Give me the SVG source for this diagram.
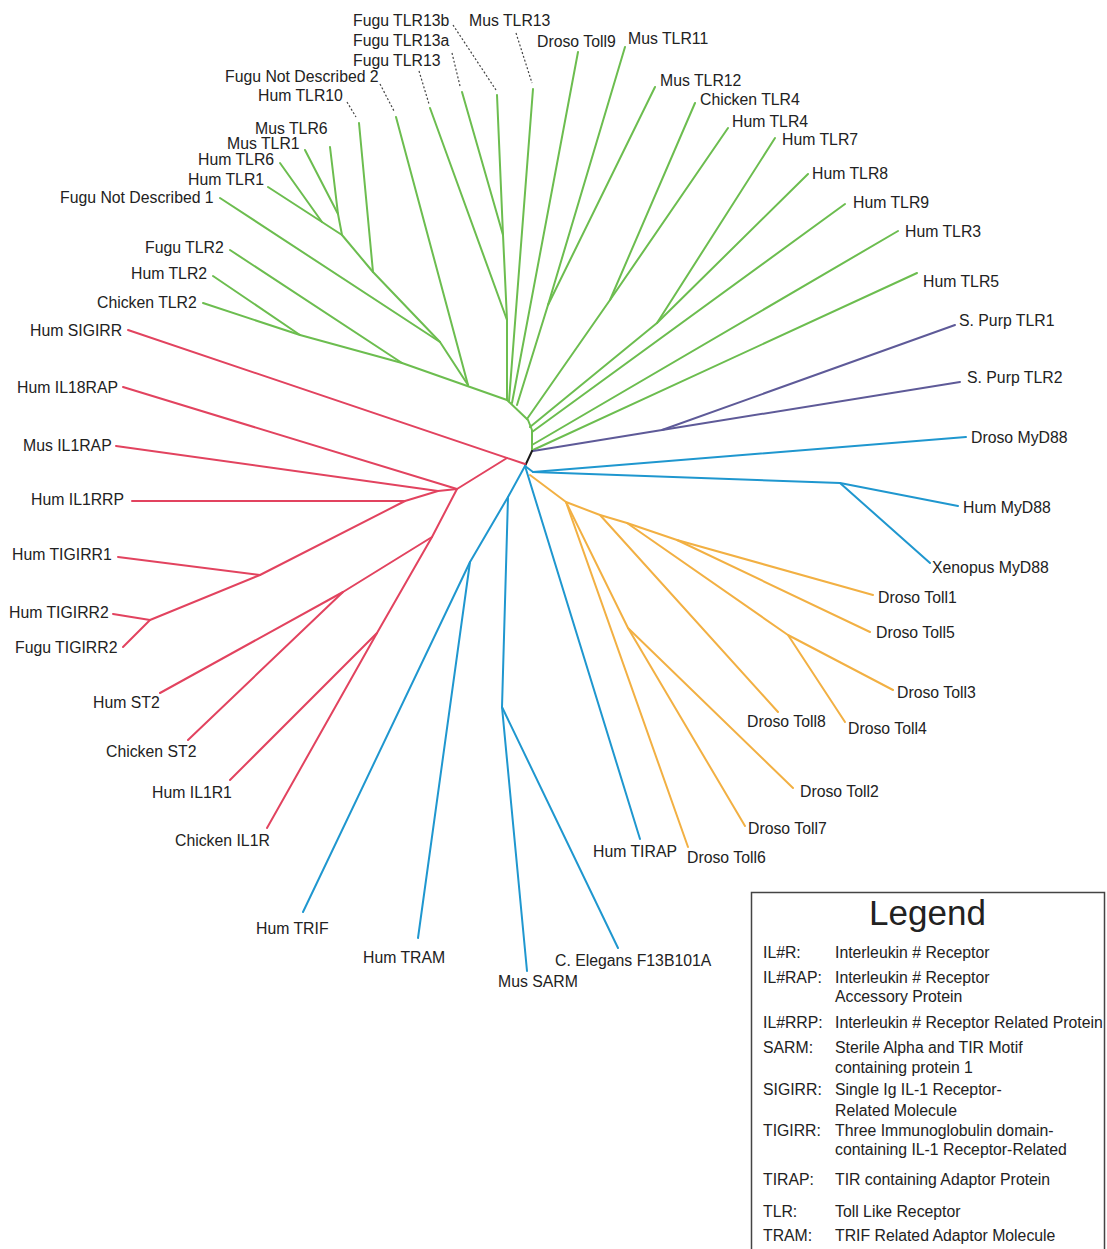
<svg xmlns="http://www.w3.org/2000/svg" width="1107" height="1249" viewBox="0 0 1107 1249">
<style>
.br{fill:none;stroke-width:2;stroke-linejoin:round;stroke-linecap:round}
.g{stroke:#6cbd4f}.r{stroke:#e2435f}.b{stroke:#1f97cf}.o{stroke:#f2b043}.p{stroke:#5e5a98}.k{stroke:#1a1a1a}
.dot{fill:none;stroke:#444;stroke-width:1.2;stroke-dasharray:2 2}
text{font-family:"Liberation Sans",Arial,Helvetica,sans-serif;font-size:15.8px;fill:#222}
.title{font-size:35px}
</style>
<rect width="1107" height="1249" fill="#fff"/>
<g id="connectors">
 <g class="br g">
  <path d="M402,363 L507,400 L528,420 L532,430 L532,451"/>
  <path d="M213,276 L300,335 L402,363"/>
  <path d="M203,303 L300,335"/>
  <path d="M230,250 L402,363"/>
  <path d="M220,198 L440,342"/>
  <path d="M268,187 L322,222 L342,235 L373,272 L440,342 L468,385"/>
  <path d="M280,163 L322,222"/>
  <path d="M305,150 L338,214 L342,235"/>
  <path d="M330,147 L338,214"/>
  <path d="M359,123 L373,272"/>
  <path d="M396,117 L468,385"/>
  <path d="M430,108 L507,320"/>
  <path d="M462,92 L503,235"/>
  <path d="M497,95 L503,235 L507,320 L507,400"/>
  <path d="M533,89 L509,401"/>
  <path d="M578,52 L512,403"/>
  <path d="M625,47 L548,305 L517,405"/>
  <path d="M655,87 L548,305"/>
  <path d="M695,103 L610,300 L527,419"/>
  <path d="M728,128 L610,300"/>
  <path d="M775,138 L657,323 L530,427"/>
  <path d="M808,174 L657,323"/>
  <path d="M845,204 L532,432"/>
  <path d="M898,231 L532,445"/>
  <path d="M917,273 L533,450"/>
 </g>
 <g class="dot">
  <path d="M453,25 L496,90"/>
  <path d="M452,53 L460,86"/>
  <path d="M419,71 L429,104"/>
  <path d="M380,84 L394,111"/>
  <path d="M347,102 L356,117"/>
  <path d="M516,33 L532,83"/>
 </g>
 <g class="br p">
  <path d="M533,451 L662,430 L955,325"/>
  <path d="M662,430 L960,382"/>
 </g>
 <path class="br k" d="M532,451 L525,466"/>
 <g class="br r">
  <path d="M525,464 L128,330"/>
  <path d="M507,458 L457,489 L123,387"/>
  <path d="M457,489 L438,491 L116,446"/>
  <path d="M438,491 L405,501 L132,501"/>
  <path d="M405,501 L260,575 L118,557"/>
  <path d="M260,575 L150,620 L113,614"/>
  <path d="M150,620 L123,647"/>
  <path d="M457,489 L432,537 L377,633 L230,780"/>
  <path d="M377,633 L267,828"/>
  <path d="M432,537 L343,592 L160,693"/>
  <path d="M343,592 L188,740"/>
 </g>
 <g class="br o">
  <path d="M530,475 L566,502 L600,515 L627,523 L677,540 L873,595"/>
  <path d="M677,540 L870,632"/>
  <path d="M627,523 L788,635 L893,690"/>
  <path d="M788,635 L845,722"/>
  <path d="M600,515 L778,712"/>
  <path d="M566,502 L628,628 L793,788"/>
  <path d="M628,628 L745,826"/>
  <path d="M566,502 L688,847"/>
 </g>
 <g class="br b">
  <path d="M525,466 L533,472 L966,437"/>
  <path d="M533,472 L840,483 L958,506"/>
  <path d="M840,483 L930,563"/>
  <path d="M525,466 L640,839"/>
  <path d="M525,466 L508,497 L470,562 L303,912"/>
  <path d="M470,562 L418,938"/>
  <path d="M508,497 L502,707 L527,971"/>
  <path d="M502,707 L618,948"/>
 </g>
</g>
<g id="n-fugu-tlr13b"><text x="353" y="26">Fugu TLR13b</text></g>
<g id="n-mus-tlr13"><text x="469" y="26">Mus TLR13</text></g>
<g id="n-fugu-tlr13a"><text x="353" y="46">Fugu TLR13a</text></g>
<g id="n-fugu-tlr13"><text x="353" y="66">Fugu TLR13</text></g>
<g id="n-droso-toll9"><text x="537" y="47">Droso Toll9</text></g>
<g id="n-mus-tlr11"><text x="628" y="44">Mus TLR11</text></g>
<g id="n-fugu-nd2"><text x="225" y="82">Fugu Not Described 2</text></g>
<g id="n-hum-tlr10"><text x="258" y="101">Hum TLR10</text></g>
<g id="n-mus-tlr12"><text x="660" y="86">Mus TLR12</text></g>
<g id="n-chicken-tlr4"><text x="700" y="105">Chicken TLR4</text></g>
<g id="n-hum-tlr4"><text x="732" y="127">Hum TLR4</text></g>
<g id="n-hum-tlr7"><text x="782" y="145">Hum TLR7</text></g>
<g id="n-hum-tlr8"><text x="812" y="179">Hum TLR8</text></g>
<g id="n-hum-tlr9"><text x="853" y="208">Hum TLR9</text></g>
<g id="n-hum-tlr3"><text x="905" y="237">Hum TLR3</text></g>
<g id="n-hum-tlr5"><text x="923" y="287">Hum TLR5</text></g>
<g id="n-spurp-tlr1"><text x="959" y="326">S. Purp TLR1</text></g>
<g id="n-spurp-tlr2"><text x="967" y="383">S. Purp TLR2</text></g>
<g id="n-droso-myd88"><text x="971" y="443">Droso MyD88</text></g>
<g id="n-hum-myd88"><text x="963" y="513">Hum MyD88</text></g>
<g id="n-xenopus-myd88"><text x="932" y="573">Xenopus MyD88</text></g>
<g id="n-droso-toll1"><text x="878" y="603">Droso Toll1</text></g>
<g id="n-droso-toll5"><text x="876" y="638">Droso Toll5</text></g>
<g id="n-droso-toll3"><text x="897" y="698">Droso Toll3</text></g>
<g id="n-droso-toll8"><text x="747" y="727">Droso Toll8</text></g>
<g id="n-droso-toll4"><text x="848" y="734">Droso Toll4</text></g>
<g id="n-droso-toll2"><text x="800" y="797">Droso Toll2</text></g>
<g id="n-droso-toll7"><text x="748" y="834">Droso Toll7</text></g>
<g id="n-hum-tirap"><text x="593" y="857">Hum TIRAP</text></g>
<g id="n-droso-toll6"><text x="687" y="863">Droso Toll6</text></g>
<g id="n-hum-trif"><text x="256" y="934">Hum TRIF</text></g>
<g id="n-hum-tram"><text x="363" y="963">Hum TRAM</text></g>
<g id="n-mus-sarm"><text x="498" y="987">Mus SARM</text></g>
<g id="n-celegans"><text x="555" y="966">C. Elegans F13B101A</text></g>
<g id="n-mus-tlr6"><text x="255" y="134">Mus TLR6</text></g>
<g id="n-mus-tlr1"><text x="227" y="149">Mus TLR1</text></g>
<g id="n-hum-tlr6"><text x="198" y="165">Hum TLR6</text></g>
<g id="n-hum-tlr1"><text x="188" y="185">Hum TLR1</text></g>
<g id="n-fugu-nd1"><text x="60" y="203">Fugu Not Described 1</text></g>
<g id="n-fugu-tlr2"><text x="145" y="253">Fugu TLR2</text></g>
<g id="n-hum-tlr2"><text x="131" y="279">Hum TLR2</text></g>
<g id="n-chicken-tlr2"><text x="97" y="308">Chicken TLR2</text></g>
<g id="n-hum-sigirr"><text x="30" y="336">Hum SIGIRR</text></g>
<g id="n-hum-il18rap"><text x="17" y="393">Hum IL18RAP</text></g>
<g id="n-mus-il1rap"><text x="23" y="451">Mus IL1RAP</text></g>
<g id="n-hum-il1rrp"><text x="31" y="505">Hum IL1RRP</text></g>
<g id="n-hum-tigirr1"><text x="12" y="560">Hum TIGIRR1</text></g>
<g id="n-hum-tigirr2"><text x="9" y="618">Hum TIGIRR2</text></g>
<g id="n-fugu-tigirr2"><text x="15" y="653">Fugu TIGIRR2</text></g>
<g id="n-hum-st2"><text x="93" y="708">Hum ST2</text></g>
<g id="n-chicken-st2"><text x="106" y="757">Chicken ST2</text></g>
<g id="n-hum-il1r1"><text x="152" y="798">Hum IL1R1</text></g>
<g id="n-chicken-il1r"><text x="175" y="846">Chicken IL1R</text></g>
<g id="legend">
 <rect x="751.5" y="892.5" width="353" height="400" fill="none" stroke="#444" stroke-width="1.5"/>
 <text class="title" x="927.5" y="925" text-anchor="middle">Legend</text>
 <text x="763" y="958">IL#R:</text><text x="835" y="958">Interleukin # Receptor</text>
 <text x="763" y="983">IL#RAP:</text><text x="835" y="983">Interleukin # Receptor</text>
 <text x="835" y="1002">Accessory Protein</text>
 <text x="763" y="1028">IL#RRP:</text><text x="835" y="1028">Interleukin # Receptor Related Protein</text>
 <text x="763" y="1053">SARM:</text><text x="835" y="1053">Sterile Alpha and TIR Motif</text>
 <text x="835" y="1073">containing protein 1</text>
 <text x="763" y="1095">SIGIRR:</text><text x="835" y="1095">Single Ig IL-1 Receptor-</text>
 <text x="835" y="1116">Related Molecule</text>
 <text x="763" y="1136">TIGIRR:</text><text x="835" y="1136">Three Immunoglobulin domain-</text>
 <text x="835" y="1155">containing IL-1 Receptor-Related</text>
 <text x="763" y="1185">TIRAP:</text><text x="835" y="1185">TIR containing Adaptor Protein</text>
 <text x="763" y="1217">TLR:</text><text x="835" y="1217">Toll Like Receptor</text>
 <text x="763" y="1241">TRAM:</text><text x="835" y="1241">TRIF Related Adaptor Molecule</text>
</g>
</svg>
